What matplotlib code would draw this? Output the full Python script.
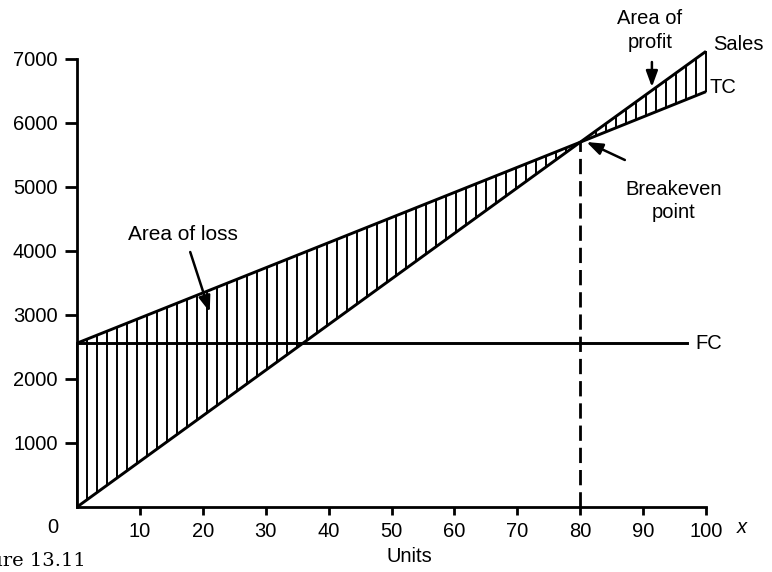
import numpy as np
import matplotlib
matplotlib.use("Agg")
import matplotlib.pyplot as plt

plt.rcParams['font.family'] = ['Liberation Sans', 'DejaVu Sans']

# Break-even chart data (units vs. money)
units = [0, 80, 100]
sales = [0, 5700, 7120]
total_cost = [2560, 5700, 6490]
fc_units = [0, 97]
fixed_cost = [2560, 2560]
breakeven_units = 80
breakeven_value = 5700

x_ticks = [10, 20, 30, 40, 50, 60, 70, 80, 90, 100]
y_ticks = [1000, 2000, 3000, 4000, 5000, 6000, 7000]

W, H = 772, 572
fig = plt.figure(figsize=(W / 100, H / 100), dpi=100)
ax = fig.add_axes([77 / W, 65 / H, 629 / W, 448 / H])
ax.set_xlim(0, 100)
ax.set_ylim(0, 7000)

for side in ('top', 'right'):
    ax.spines[side].set_visible(False)
for side in ('left', 'bottom'):
    ax.spines[side].set_linewidth(2.0)

fs = 14.5
ax.set_xticks(x_ticks)
ax.set_yticks(y_ticks)
ax.tick_params(axis='x', length=6, width=2.0, pad=4.5, labelsize=fs)
ax.tick_params(axis='y', length=9, width=2.0, pad=5.0, labelsize=fs)

lw = 2.1
ax.plot(units, sales, color='black', lw=lw, clip_on=False, solid_capstyle='butt')
ax.plot(units, total_cost, color='black', lw=lw, clip_on=False, solid_capstyle='butt')
ax.plot(fc_units, fixed_cost, color='black', lw=lw, clip_on=False)
ax.plot([breakeven_units, breakeven_units], [0, breakeven_value], color='black',
        lw=2.0, dashes=(5.5, 2.5), clip_on=False)

# Vertical hatching between sales and total cost
hx = np.linspace(0, 100, 64)
s_h = np.interp(hx, units, sales)
t_h = np.interp(hx, units, total_cost)
ax.vlines(hx, np.minimum(s_h, t_h), np.maximum(s_h, t_h), color='black',
          lw=1.4, clip_on=False)

ax.text(101.1, 7219, 'Sales', fontsize=fs, ha='left', va='center')
ax.text(100.6, 6547, 'TC', fontsize=fs, ha='left', va='center')
ax.text(98.3, 2562, 'FC', fontsize=fs, ha='left', va='center')
ax.text(-3.8, -328, '0', fontsize=fs, ha='center', va='center')
ax.text(105.7, -328, 'x', fontsize=fs, ha='center', va='center', style='italic')
ax.text(52.8, -780, 'Units', fontsize=fs, ha='center', va='center')

arrow = dict(arrowstyle='-|>,head_length=0.6,head_width=0.22', color='black',
             lw=1.8, mutation_scale=16, shrinkA=0, shrinkB=0)
ax.text(16.9, 4250, 'Area of loss', fontsize=15, ha='center', va='center')
ax.annotate('', xy=(21.1, 3047), xytext=(18.0, 3984), arrowprops=arrow,
            annotation_clip=False)

ax.text(91.1, 7440, 'Area of\nprofit', fontsize=fs, ha='center', va='center',
        linespacing=1.35)
ax.annotate('', xy=(91.4, 6562), xytext=(91.4, 6953), arrowprops=arrow,
            annotation_clip=False)

ax.text(94.9, 4781, 'Breakeven\npoint', fontsize=fs, ha='center', va='center',
        linespacing=1.3)
ax.annotate('', xy=(81.0, 5703), xytext=(87.1, 5422), arrowprops=arrow,
            annotation_clip=False)

fig.text(86 / W, 11 / H, 'Figure 13.11', fontsize=14, ha='right', va='center',
         family=['DejaVu Serif', 'Liberation Serif'])

fig.savefig('out.png', dpi=100)
